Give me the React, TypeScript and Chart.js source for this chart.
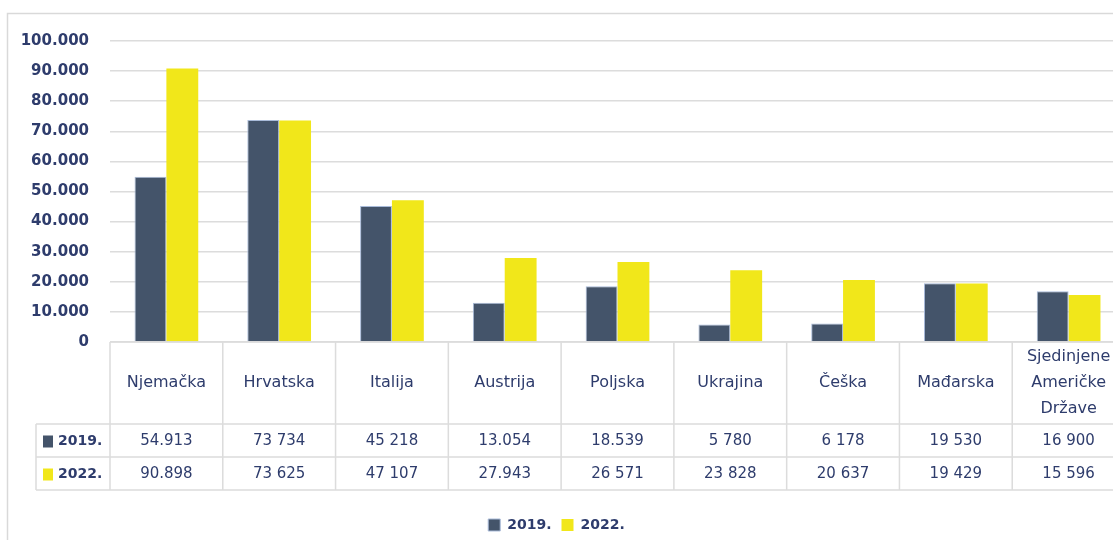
import React, { useEffect, useRef } from 'react';
import { Chart, registerables } from 'chart.js';

Chart.register(...registerables);

// ---- data ----
const categories: (string | string[])[] = [
  'Njemačka',
  'Hrvatska',
  'Italija',
  'Austrija',
  'Poljska',
  'Ukrajina',
  'Češka',
  'Mađarska',
  ['Sjedinjene', 'Američke', 'Države'],
];
const seriesNames = ['2019.', '2022.'];
const values2019 = [54913, 73734, 45218, 13054, 18539, 5780, 6178, 19530, 16900];
const values2022 = [90898, 73625, 47107, 27943, 26571, 23828, 20637, 19429, 15596];
const tableLabels2019 = ['54.913', '73 734', '45 218', '13.054', '18.539', '5 780', '6 178', '19 530', '16 900'];
const tableLabels2022 = ['90.898', '73 625', '47 107', '27.943', '26 571', '23 828', '20 637', '19 429', '15 596'];
const yMax = 100000;
const yStep = 10000;

// ---- style ----
const COLOR_2019 = '#44546a';
const COLOR_2019_BORDER = '#a9bbd9';
const COLOR_2022 = '#f1e71a';
const TEXT = '#2e3c6c';
const GRID = '#dcdcdc';
const FONT = '"DejaVu Sans", sans-serif';

function fmtTick(v: number): string {
  if (v === 0) return '0';
  const s = String(Math.round(v));
  return s.replace(/\B(?=(\d{3})+(?!\d))/g, '.');
}

const frameAndTable = {
  id: 'frameAndTable',
  afterLayout(chart: any) {
    const lg = chart.legend;
    if (lg) {
      lg.left -= 6;
      lg.right -= 6;
      lg.top += 2;
      lg.bottom += 2;
    }
  },
  beforeDraw(chart: any) {
    const ctx = chart.ctx;
    ctx.save();
    ctx.fillStyle = '#ffffff';
    ctx.fillRect(0, 0, chart.width, chart.height);
    ctx.strokeStyle = '#d9d9d9';
    ctx.lineWidth = 1.5;
    ctx.beginPath();
    ctx.moveTo(7.5, chart.height);
    ctx.lineTo(7.5, 13.5);
    ctx.lineTo(chart.width, 13.5);
    ctx.stroke();
    ctx.restore();
  },
  afterDraw(chart: any) {
    const ctx = chart.ctx;
    const xs = chart.scales.x;
    const area = chart.chartArea;
    const n = categories.length;
    const half = (xs.getPixelForValue(1) - xs.getPixelForValue(0)) / 2;
    const colLeft = xs.getPixelForValue(0) - half;
    const colRight = xs.getPixelForValue(n - 1) + half;
    const top = area.bottom;
    const r1 = top + 82;
    const r2 = r1 + 33;
    const r3 = r2 + 33;
    const labelLeft = 36;

    ctx.save();
    ctx.strokeStyle = GRID;
    ctx.lineWidth = 1.5;
    ctx.beginPath();
    ctx.moveTo(colLeft, top);
    ctx.lineTo(colRight, top);
    [r1, r2, r3].forEach((y) => {
      ctx.moveTo(labelLeft, y);
      ctx.lineTo(colRight, y);
    });
    ctx.moveTo(labelLeft, r1);
    ctx.lineTo(labelLeft, r3);
    for (let i = 0; i <= n; i++) {
      const x = i < n ? xs.getPixelForValue(i) - half : colRight;
      ctx.moveTo(x, top);
      ctx.lineTo(x, r3);
    }
    ctx.stroke();

    ctx.fillStyle = TEXT;
    ctx.textAlign = 'center';
    ctx.textBaseline = 'middle';
    ctx.font = `16px ${FONT}`;
    categories.forEach((c, i) => {
      const lines = Array.isArray(c) ? c : [c];
      const cx = xs.getPixelForValue(i);
      const lh = 26;
      const cy = (top + r1) / 2;
      lines.forEach((ln, k) => {
        ctx.fillText(ln, cx, cy + (k - (lines.length - 1) / 2) * lh);
      });
    });
    ctx.font = `15px ${FONT}`;
    tableLabels2019.forEach((t, i) => ctx.fillText(t, xs.getPixelForValue(i), (r1 + r2) / 2 + 1));
    tableLabels2022.forEach((t, i) => ctx.fillText(t, xs.getPixelForValue(i), (r2 + r3) / 2 + 1));

    // row headers
    const rows = [
      { name: seriesNames[0], color: COLOR_2019, y: (r1 + r2) / 2 },
      { name: seriesNames[1], color: COLOR_2022, y: (r2 + r3) / 2 },
    ];
    ctx.textAlign = 'left';
    ctx.font = `bold 14px ${FONT}`;
    rows.forEach((r) => {
      ctx.fillStyle = r.color;
      ctx.fillRect(43, r.y - 5, 10, 12);
      ctx.fillStyle = TEXT;
      ctx.fillText(r.name, 58, r.y + 1);
    });
    ctx.restore();
  },
};

export default function App() {
  const ref = useRef<HTMLCanvasElement | null>(null);
  useEffect(() => {
    if (!ref.current) return;
    const chart = new Chart(ref.current, {
      type: 'bar',
      data: {
        labels: categories as any,
        datasets: [
          {
            label: seriesNames[0],
            data: values2019,
            backgroundColor: COLOR_2019,
            borderColor: COLOR_2019_BORDER,
            borderWidth: 1,
            categoryPercentage: 0.565,
            barPercentage: 1,
          },
          {
            label: seriesNames[1],
            data: values2022,
            backgroundColor: COLOR_2022,
            borderColor: COLOR_2022,
            borderWidth: 0,
            categoryPercentage: 0.565,
            barPercentage: 1,
          },
        ],
      },
      options: {
        animation: false,
        responsive: false,
        devicePixelRatio: 1,
        layout: { padding: { top: 41, left: 0, right: 0, bottom: 0 } },
        plugins: {
          legend: {
            position: 'bottom',
            labels: {
              boxWidth: 12,
              boxHeight: 12,
              padding: 10,
              color: TEXT,
              font: { family: FONT, size: 14, weight: 'bold' },
            },
          },
          tooltip: { enabled: false },
        },
        scales: {
          x: {
            grid: { display: false },
            border: { display: false },
            ticks: { display: false },
            afterFit: (s: any) => {
              s.height = 164;
            },
          },
          y: {
            min: 0,
            max: yMax,
            border: { display: false },
            grid: { color: GRID, lineWidth: 1.5, drawTicks: false },
            ticks: {
              stepSize: yStep,
              padding: 21,
              color: TEXT,
              font: { family: FONT, size: 15, weight: 'bold' },
              callback: (v: any) => fmtTick(Number(v)),
            },
            afterFit: (s: any) => {
              s.width = 110;
            },
          },
        },
      },
      plugins: [frameAndTable],
    });
    return () => chart.destroy();
  }, []);
  return (
    <div
      style={{
        position: 'absolute',
        left: 0,
        top: 0,
        width: 1113,
        height: 540,
        overflow: 'hidden',
        background: '#fff',
      }}
    >
      <canvas ref={ref} width={1125} height={540} style={{ display: 'block' }} />
    </div>
  );
}
